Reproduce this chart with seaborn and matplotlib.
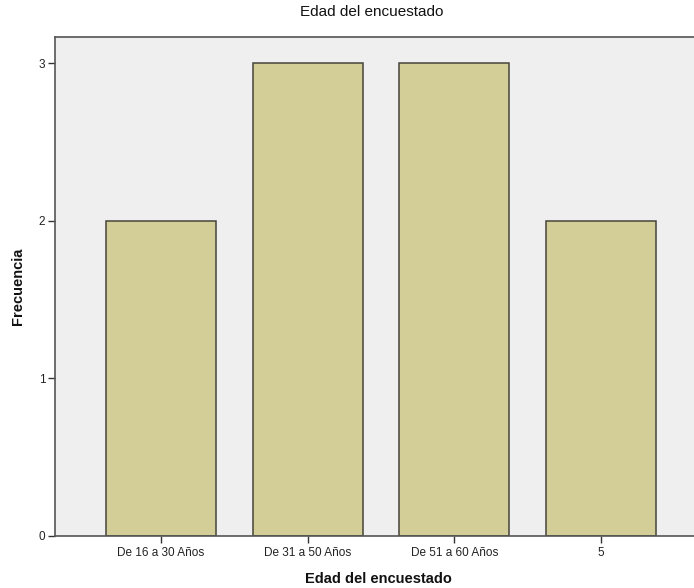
import matplotlib
matplotlib.use("Agg")
import matplotlib.pyplot as plt
import seaborn as sns
import pandas as pd

categorias = ["De 16 a 30 Años", "De 31 a 50 Años", "De 51 a 60 Años", "5"]
frecuencias = [2, 3, 3, 2]
yticks = [0, 1, 2, 3]

df = pd.DataFrame({"cat": categorias, "freq": frecuencias})

sns.set_style("white")
plt.rcParams['font.family'] = ['Liberation Sans', 'DejaVu Sans']

fig = plt.figure(figsize=(6.94, 5.88), dpi=100)
W, H = 694, 588
left, right, top, bottom = 55, 702, 37, 536
ax = fig.add_axes([left / W, 1 - bottom / H, (right - left) / W, (bottom - top) / H])

sns.barplot(data=df, x="cat", y="freq", ax=ax, color="#d3ce98", width=0.75,
            edgecolor="#45443a", linewidth=1.1, saturation=1)

ax.set_facecolor("#efefef")
ax.set_xlim(-0.724, 3.69)
ax.set_ylim(0, 3.165)
ax.set_yticks(yticks)
ax.set_yticklabels([str(v) for v in yticks], fontsize=8.5, color="#222222")
ax.tick_params(axis="x", bottom=True, labelsize=8.5, colors="#333333", labelcolor="#222222",
               length=5, width=1, direction="out", pad=3)
ax.tick_params(axis="y", left=True, length=5, width=1, direction="out", pad=2,
               colors="#333333", labelcolor="#222222")
for s in ["left", "bottom", "top", "right"]:
    ax.spines[s].set_color("#555555")
    ax.spines[s].set_linewidth(1.2)

ax.set_xlabel("Edad del encuestado", fontsize=10.5, fontweight="bold", labelpad=9, color="#111111")
ax.set_ylabel("Frecuencia", fontsize=10.5, fontweight="bold", labelpad=10, color="#111111")
fig.text(372 / W, 1 - 12 / H, "Edad del encuestado", ha="center", va="center",
         fontsize=11, fontweight="medium", color="#111111")

fig.savefig("out.png", dpi=100)
